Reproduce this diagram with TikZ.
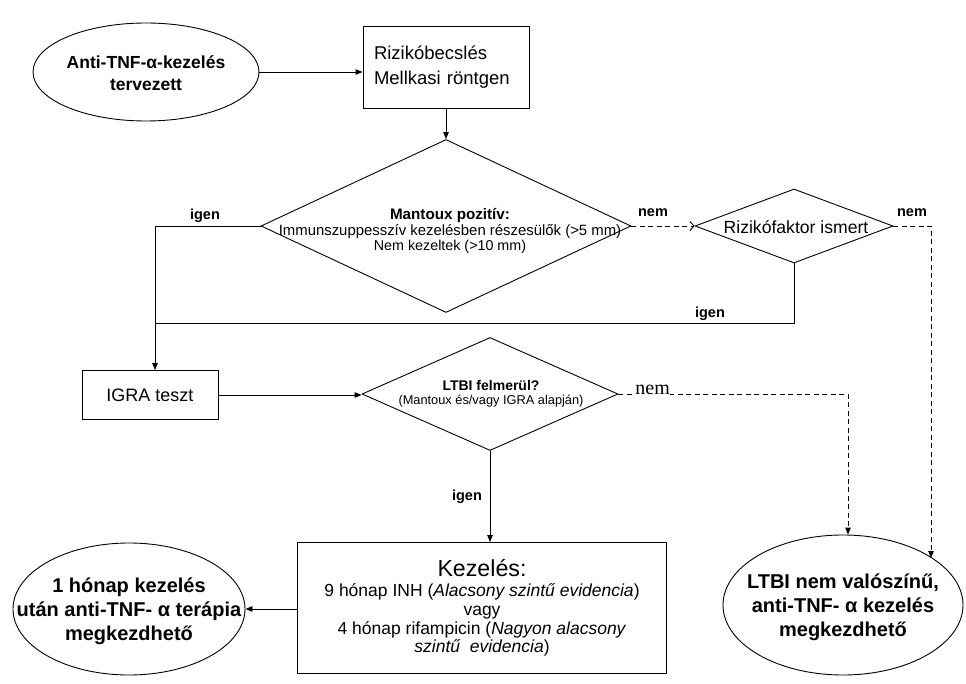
\documentclass[tikz,border=0pt]{standalone}
\usepackage{fontspec}
\setmainfont{Liberation Sans}
\newfontfamily\serifnem{Liberation Serif}
\usetikzlibrary{shapes.geometric,arrows.meta}
\begin{document}
\begin{tikzpicture}[x=1pt,y=-1pt,
  line width=0.9pt,
  ell/.style={draw,ellipse,inner sep=0pt},
  etext/.style={align=center,inner sep=0pt,font=\fontsize{20}{24}\selectfont\bfseries},
  boxnode/.style={draw,rectangle,inner sep=0pt},
  dia/.style={draw,diamond,inner sep=0pt},
  arr/.style={-{Triangle[length=7pt,width=5.5pt]}},
  barb/.style={-{Straight Barb[length=4pt,width=9pt]}},
  dsh/.style={dash pattern=on 5pt off 3.5pt},
  lbl/.style={font=\fontsize{14.5}{16}\selectfont\bfseries,inner sep=0pt},
]
\useasboundingbox (0,0) rectangle (966,684);
% nodes
\node[ell,minimum width=226pt,minimum height=98pt] (e1) at (146,72) {};
\node[etext,font=\fontsize{17.5}{22}\selectfont\bfseries] (e1t) at (146,73) {Anti-TNF-α-kezelés\\tervezett};
\node[boxnode,minimum width=166pt,minimum height=82pt,text width=144pt,inner xsep=11pt,align=left,
      font=\fontsize{18.5}{25}\selectfont] (b1) at (446,67) {Rizikóbecslés\\Mellkasi röntgen};
\node[dia,minimum width=370pt,minimum height=173pt] (d1) at (446,226) {};
\node[align=center,inner sep=0pt] (d1t) at (450,231)
  {{\fontsize{15.2}{18}\selectfont\bfseries Mantoux pozitív:}\\[1pt]
   {\fontsize{14.9}{17.5}\selectfont Immunszuppesszív kezelésben részesülők (>5 mm)}\\
   {\fontsize{14.3}{17.5}\selectfont Nem kezeltek (>10 mm)}};
\node[dia,minimum width=198pt,minimum height=74pt] (d2) at (794,226) {};
\node[inner sep=0pt,font=\fontsize{17.6}{19}\selectfont] (d2t) at (796,227) {Rizikófaktor ismert};
\node[boxnode,minimum width=136pt,minimum height=49pt,font=\fontsize{18}{22}\selectfont] (igra) at (150,395) {IGRA teszt};
\node[dia,minimum width=256pt,minimum height=113pt] (d3) at (490,394) {};
\node[align=center,inner sep=0pt] (d3t) at (491,394)
  {{\fontsize{14}{17}\selectfont\bfseries LTBI felmerül?}\\[1.5pt]
   {\fontsize{12.8}{15}\selectfont (Mantoux és/vagy IGRA alapján)}};
\node[boxnode,minimum width=369pt,minimum height=131pt,align=center,font=\fontsize{17.5}{18.8}\selectfont] (b3) at (482,608)
  {{\fontsize{23.2}{27}\selectfont Kezelés:}\\[1pt]
   9 hónap INH (\textit{Alacsony szintű evidencia})\\
   vagy\\
   4 hónap rifampicin (\textit{Nagyon alacsony}\\
   \textit{szintű\ \ evidencia})};
\node[ell,minimum width=232pt,minimum height=132pt] (e2) at (129,609) {};
\node[etext] (e2t) at (129,611) {1 hónap kezelés\\után anti-TNF- α terápia\\megkezdhető};
\node[ell,minimum width=240pt,minimum height=140pt] (e3) at (843,605) {};
\node[etext] (e3t) at (843,607) {LTBI nem valószínű,\\anti-TNF- α kezelés\\megkezdhető};
% labels
\node[lbl] (l1) at (205,216) {igen};
\node[lbl] (l2) at (653,213) {nem};
\node[lbl] (l3) at (912,213) {nem};
\node[lbl] (l4) at (710,314) {igen};
\node[lbl] (l6) at (467,497) {igen};
% coordinates
\coordinate (c1) at (155,226);
\coordinate (c2) at (155,323);
\coordinate (c3) at (931,226);
\coordinate (c4) at (931,558);
\coordinate (c5) at (848,394);
% connectors
\draw[arr] (e1.east) -- (e1.east -| b1.west);
\draw[arr] (b1.south) -- (b1.south |- d1.north);
\draw[arr] (d1.west) -- (c1) -- (c1 |- igra.north);
\draw (d2.south) |- (c2);
\draw[dsh,barb] (d1.east) -- (d2.west);
\draw[dsh,arr] (d2.east) -- (c3) -- (c4);
\draw[arr] (igra.east) -- (igra.east -| d3.west);
\draw[dsh,arr] (d3.east) -- (c5) -- (c5 |- e3.north);
\draw[arr] (d3.south) -- (d3.south |- b3.north);
\draw[arr] (b3.west |- e2.east) -- (e2.east);
\node[inner sep=0pt,fill=white,anchor=south west,font=\serifnem\fontsize{20}{22}\selectfont] (l5) at (635,395) {nem};
\end{tikzpicture}
\end{document}
